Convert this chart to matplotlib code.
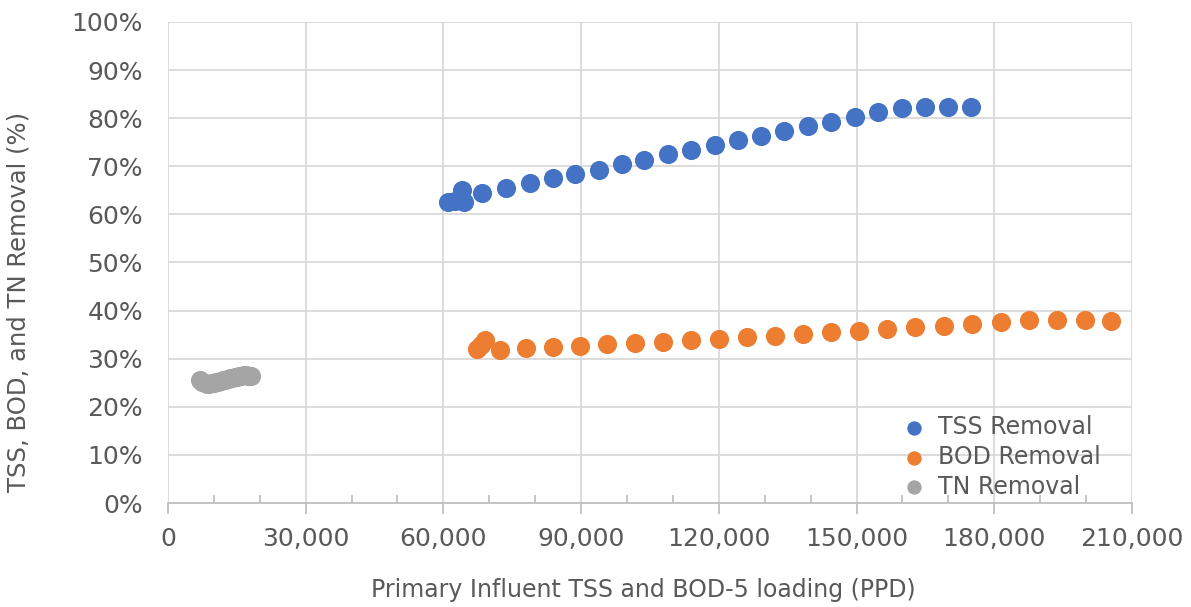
import matplotlib.pyplot as plt
from matplotlib.ticker import MultipleLocator, FuncFormatter

plt.rcParams['font.family'] = ['DejaVu Sans']

TEXT_COLOR = '#595959'
GRID_COLOR = '#D9D9D9'

# primary influent loading (PPD) vs removal (%)
tss_load = [61000, 62500, 64000, 64500, 68500, 73600, 78800, 83900, 88700, 93900,
            98900, 103800, 108900, 113900, 119200, 124200, 129200, 134200, 139400,
            144400, 149700, 154700, 159900, 164900, 169900, 175000]
tss_removal = [62.5, 62.8, 65.0, 62.6, 64.4, 65.5, 66.5, 67.5, 68.3, 69.3,
               70.5, 71.4, 72.5, 73.3, 74.4, 75.4, 76.4, 77.3, 78.3,
               79.3, 80.2, 81.2, 82.2, 82.3, 82.3, 82.3]

bod_load = [67300, 68300, 69100, 72300, 78000, 83900, 89800, 95600, 101700,
            107800, 113900, 120000, 126100, 132200, 138300, 144400, 150500,
            156600, 162700, 169000, 175100, 181400, 187500, 193600, 199700, 205400]
bod_removal = [32.0, 32.8, 33.9, 31.9, 32.2, 32.4, 32.6, 33.0, 33.3,
               33.5, 33.9, 34.1, 34.5, 34.8, 35.1, 35.5, 35.8,
               36.2, 36.6, 36.8, 37.3, 37.6, 38.0, 38.0, 38.0, 37.9]

tn_load = [7000, 7500, 8000, 8500, 9000, 9500, 10000, 10500, 11000, 11500, 12000,
           12500, 13000, 13500, 14000, 14500, 15000, 15500, 16000, 16500, 17000,
           17500, 18000]
tn_removal = [25.6, 25.2, 24.9, 24.8, 24.8, 24.9, 25.0, 25.1, 25.2, 25.4, 25.5,
              25.6, 25.8, 25.9, 26.0, 26.1, 26.3, 26.4, 26.5, 26.6, 26.6,
              26.5, 26.4]

fig = plt.figure(figsize=(11.91, 6.07), dpi=100)
ax = fig.add_axes([0.141, 0.1713, 0.8095, 0.7925])

ms = 190
ax.scatter(tss_load, tss_removal, s=ms, color='#4472C4', linewidths=0, label='TSS Removal', zorder=3)
ax.scatter(bod_load, bod_removal, s=ms, color='#ED7D31', linewidths=0, label='BOD Removal', zorder=3)
ax.scatter(tn_load, tn_removal, s=ms, color='#A5A5A5', linewidths=0, label='TN Removal', zorder=3)

ax.set_xlim(0, 210000)
ax.set_ylim(0, 100)
ax.xaxis.set_major_locator(MultipleLocator(30000))
ax.xaxis.set_minor_locator(MultipleLocator(10000))
ax.yaxis.set_major_locator(MultipleLocator(10))
ax.xaxis.set_major_formatter(FuncFormatter(lambda v, p: f'{int(v):,}'))
ax.yaxis.set_major_formatter(FuncFormatter(lambda v, p: f'{int(v)}%'))

ax.grid(True, which='major', color=GRID_COLOR, linewidth=1.3, zorder=0)
ax.set_axisbelow(True)
for side in ['top', 'right', 'left']:
    ax.spines[side].set_visible(False)
ax.spines['bottom'].set_color('#BFBFBF')
ax.spines['bottom'].set_linewidth(1.3)

ax.tick_params(axis='x', which='major', direction='out', length=8, width=1.3,
               color='#BFBFBF', labelsize=18, labelcolor=TEXT_COLOR, pad=9)
ax.tick_params(axis='x', which='minor', direction='in', length=6, width=1.3, color='#BFBFBF')
ax.tick_params(axis='y', length=0, labelsize=18, labelcolor=TEXT_COLOR, pad=18)

ax.set_xlabel('Primary Influent TSS and BOD-5 loading (PPD)', fontsize=17, color=TEXT_COLOR)
ax.set_ylabel('TSS, BOD, and TN Removal (%)', fontsize=17.5, color=TEXT_COLOR)
ax.xaxis.set_label_coords(0.493, -0.155)
ax.yaxis.set_label_coords(-0.143, 0.418)

leg = ax.legend(loc='lower right', bbox_to_anchor=(0.99, -0.035), frameon=False,
                fontsize=17, labelcolor=TEXT_COLOR, handletextpad=0.05,
                labelspacing=0.25, markerscale=0.75)

fig.savefig('out.png', dpi=100)
